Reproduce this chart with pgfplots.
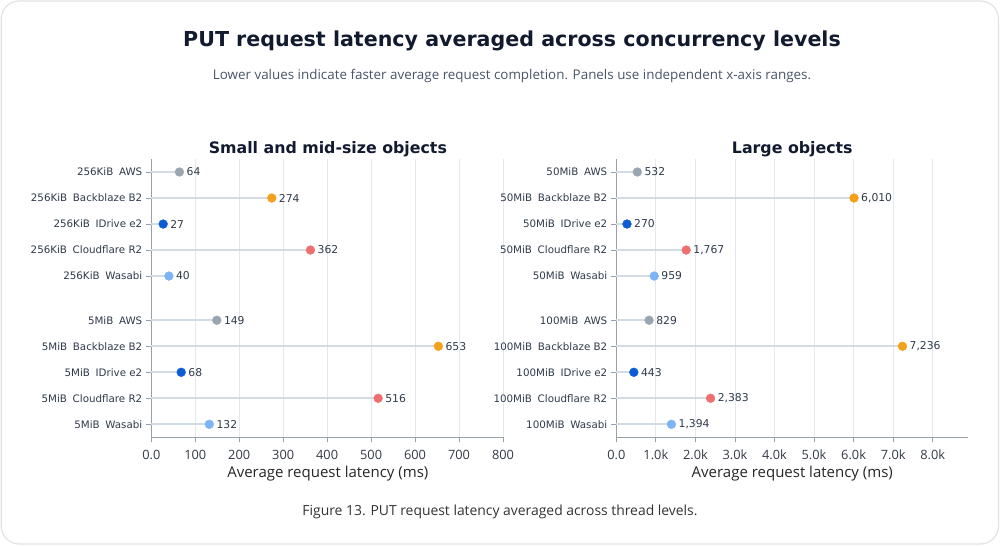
\documentclass[border=0pt]{standalone}
\usepackage{fontspec}
\setmainfont{DejaVu Sans}
\newfontfamily\osans{Open Sans}
\usepackage{pgfplots}
\pgfplotsset{compat=1.18}
\definecolor{cAWS}{HTML}{98A6B0}
\definecolor{cBB}{HTML}{F5A01A}
\definecolor{cID}{HTML}{0B5CD5}
\definecolor{cCF}{HTML}{EF6F6F}
\definecolor{cWS}{HTML}{7DB4F5}
\definecolor{stemc}{HTML}{D3DBE4}
\definecolor{gridc}{HTML}{E3E8EE}
\definecolor{axisc}{HTML}{96A0AB}
\definecolor{labc}{HTML}{2F3A4A}
\definecolor{tickc}{HTML}{333A45}
\definecolor{navy}{HTML}{111A2E}
\definecolor{subc}{HTML}{4A5568}
\definecolor{cardc}{HTML}{E2E2E2}
\pgfplotsset{
  lolli/.style={
    scale only axis, height=278.3pt,
    ymin=-0.5, ymax=10.2, y dir=reverse,
    xmin=0,
    axis x line=bottom, axis y line=left,
    axis line style={-, draw=axisc, line width=0.9pt},
    xmajorgrids, grid style={draw=gridc, line width=0.8pt},
    ytick={0,1,2,3,4,5.7,6.7,7.7,8.7,9.7},
    tick align=outside, major tick length=5pt,
    tick style={draw=axisc, line width=0.8pt},
    yticklabel style={font=\fontsize{10.3}{12}\selectfont, text=labc, xshift=-0.5pt},
    xticklabel style={font=\osans\fontsize{12.8}{15}\selectfont, text=tickc, yshift=-4pt},
    xlabel style={font=\osans\fontsize{15}{17}\selectfont, text=black!85,
      at={(axis description cs:0.5,0)}, anchor=center, yshift=-36pt},
    title style={font=\bfseries\fontsize{15.8}{18}\selectfont, text=navy,
      at={(axis description cs:0.5,1)}, anchor=center, yshift=4pt},
    xlabel={Average request latency (ms)},
    clip=false,
  },
  dots/.style={only marks, mark=*, mark size=4.4pt, mark options={draw=#1, fill=#1},
    nodes near coords, point meta=explicit symbolic,
    every node near coord/.append style={anchor=west, xshift=6pt, inner sep=1pt,
      font=\fontsize{10.8}{13}\selectfont, text=labc}},
  stem/.style={xcomb, draw=stemc, line width=2pt, mark=none},
}
\newcommand{\gap}{\hspace{0.55em}}
\begin{document}
\begin{tikzpicture}
\path[use as bounding box] (0pt,0pt) rectangle (1000pt,546pt);
\draw[draw=cardc, line width=1.2pt, rounded corners=18pt] (1.2pt,2pt) rectangle (998.5pt,545pt);
\node[font=\bfseries\fontsize{20.6}{24}\selectfont, text=navy] at (512pt,505pt) {PUT request latency averaged across concurrency levels};
\node[font=\osans\fontsize{13.4}{16}\selectfont, text=subc] at (512pt,470pt) {Lower values indicate faster average request completion. Panels use independent x-axis ranges.};
\node[font=\osans\fontsize{13.9}{16}\selectfont, text=black!80] at (500pt,34pt) {Figure 13. PUT request latency averaged across thread levels.};

\begin{axis}[lolli, at={(151.3pt,108.7pt)}, anchor=south west, width=353.1pt,
  xmax=803.2, xtick={0,100,...,800},
  xticklabels={0.0,100,200,300,400,500,600,700,800},
  yticklabels={256KiB\gap AWS,256KiB\gap Backblaze B2,256KiB\gap IDrive e2,256KiB\gap Cloudflare R2,256KiB\gap Wasabi,
    5MiB\gap AWS,5MiB\gap Backblaze B2,5MiB\gap IDrive e2,5MiB\gap Cloudflare R2,5MiB\gap Wasabi},
  title={Small and mid-size objects}]
\addplot[stem] coordinates {(64,0) (274,1) (27,2) (362,3) (40,4) (149,5.7) (653,6.7) (68,7.7) (516,8.7) (132,9.7)};
\addplot[dots=cAWS] coordinates {(64,0) [64] (149,5.7) [149]};
\addplot[dots=cBB] coordinates {(274,1) [274] (653,6.7) [653]};
\addplot[dots=cID] coordinates {(27,2) [27] (68,7.7) [68]};
\addplot[dots=cCF] coordinates {(362,3) [362] (516,8.7) [516]};
\addplot[dots=cWS] coordinates {(40,4) [40] (132,9.7) [132]};
\end{axis}

\begin{axis}[lolli, at={(616.3pt,108.7pt)}, anchor=south west, width=352pt,
  xmax=8900, xtick={0,1000,...,8000},
  xticklabels={0.0,1.0k,2.0k,3.0k,4.0k,5.0k,6.0k,7.0k,8.0k},
  yticklabels={50MiB\gap AWS,50MiB\gap Backblaze B2,50MiB\gap IDrive e2,50MiB\gap Cloudflare R2,50MiB\gap Wasabi,
    100MiB\gap AWS,100MiB\gap Backblaze B2,100MiB\gap IDrive e2,100MiB\gap Cloudflare R2,100MiB\gap Wasabi},
  title={Large objects}]
\addplot[stem] coordinates {(532,0) (6010,1) (270,2) (1767,3) (959,4) (829,5.7) (7236,6.7) (443,7.7) (2383,8.7) (1394,9.7)};
\addplot[dots=cAWS] coordinates {(532,0) [532] (829,5.7) [829]};
\addplot[dots=cBB] coordinates {(6010,1) [6{,}010] (7236,6.7) [7{,}236]};
\addplot[dots=cID] coordinates {(270,2) [270] (443,7.7) [443]};
\addplot[dots=cCF] coordinates {(1767,3) [1{,}767] (2383,8.7) [2{,}383]};
\addplot[dots=cWS] coordinates {(959,4) [959] (1394,9.7) [1{,}394]};
\end{axis}
\end{tikzpicture}
\end{document}
